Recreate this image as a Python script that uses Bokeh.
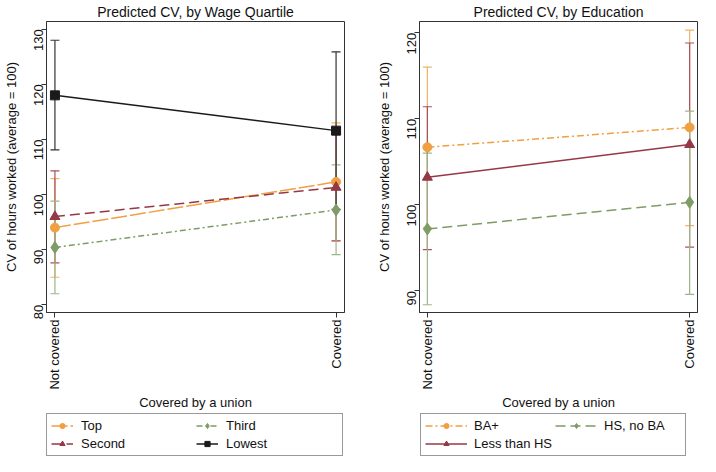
import math
from bokeh.plotting import figure
from bokeh.layouts import row, column
from bokeh.models import (ColumnDataSource, Whisker, TeeHead, FixedTicker, Legend,
                          LegendItem, Range1d)
from bokeh.embed import file_html
from bokeh.resources import INLINE

# ---------------- data ----------------
x_pos = [0, 1]
x_labels = ["Not covered", "Covered"]

wage_names = ["Top", "Second", "Third", "Lowest"]
wage_mean = [[94.0, 102.3], [96.0, 101.3], [90.4, 97.2], [118.0, 111.6]]
wage_lo = [[85.0, 91.6], [87.6, 91.6], [82.0, 89.1], [108.1, 97.3]]
wage_hi = [[102.9, 113.0], [104.3, 111.0], [98.8, 105.4], [128.0, 125.9]]
wage_legend_order = ["Top", "Third", "Second", "Lowest"]

edu_names = ["BA+", "Less than HS", "HS, no BA"]
edu_mean = [[106.7, 109.0], [103.2, 107.0], [97.2, 100.3]]
edu_lo = [[97.4, 97.6], [94.8, 95.1], [88.4, 89.6]]
edu_hi = [[116.0, 120.3], [111.4, 118.8], [106.0, 110.9]]
edu_legend_order = ["BA+", "HS, no BA", "Less than HS"]

wage_yticks = [80, 90, 100, 110, 120, 130]
edu_yticks = [90, 100, 110, 120]

# ---------------- styles ----------------
ORANGE = "#F0A043"
MAROON = "#953846"
GREEN = "#7E9C66"
BLACK = "#1A1A1A"
FONT = "Liberation Sans"

wage_style = [
    dict(color=ORANGE, err="#F3B265", dash="16 3", marker="circle", size=9),
    dict(color=MAROON, err="#A9505E", dash="10 5", marker="triangle", size=10),
    dict(color=GREEN, err="#9DB58A", dash="6 3 2 3", marker="diamond", size=12),
    dict(color=BLACK, err="#333333", dash="solid", marker="square", size=9),
]
edu_style = [
    dict(color=ORANGE, err="#F3B265", dash="7 3 2 3", marker="circle", size=9),
    dict(color=MAROON, err="#A9505E", dash="solid", marker="triangle", size=10),
    dict(color=GREEN, err="#9DB58A", dash="10 5", marker="diamond", size=12),
]


def draw_series(p, names, means, los, his, styles, whiskers):
    items = {}
    for name, m, lo, hi, st in zip(names, means, los, his, styles):
        src = ColumnDataSource(dict(x=x_pos, y=m, lo=lo, hi=hi))
        if whiskers:
            w = Whisker(base="x", upper="hi", lower="lo", source=src,
                        line_color=st["err"], line_width=1.2,
                        upper_head=TeeHead(size=9, line_color=st["err"], line_width=1.2),
                        lower_head=TeeHead(size=9, line_color=st["err"], line_width=1.2))
            w.level = "underlay"
            p.add_layout(w)
        ln = p.line("x", "y", source=src, line_color=st["color"], line_width=1.5,
                    line_dash=st["dash"])
        mk = p.scatter("x", "y", source=src, marker=st["marker"], size=st["size"],
                       fill_color=st["color"], line_color=st["color"])
        items[name] = LegendItem(label=name, renderers=[ln, mk])
    return items


def make_panel(title, names, means, los, his, styles, yticks, yr, width, bl, br):
    p = figure(width=width, height=412, x_range=Range1d(-0.03, 1.03),
               y_range=Range1d(*yr), output_backend="svg", toolbar_location=None,
               min_border_left=bl, min_border_right=br, min_border_top=0,
               min_border_bottom=100)
    p.title.text = title
    p.title.align = "center"
    p.title.text_font = FONT
    p.title.text_font_size = "14px"
    p.title.text_font_style = "normal"
    p.title.text_color = "#111111"
    p.title.standoff = 3
    p.outline_line_color = "#333333"
    p.outline_line_width = 1
    p.xgrid.visible = False
    p.ygrid.visible = False
    p.background_fill_color = "white"
    p.border_fill_color = "white"

    p.xaxis.ticker = FixedTicker(ticks=x_pos)
    p.xaxis.major_label_overrides = {x: l for x, l in zip(x_pos, x_labels)}
    p.xaxis.major_label_orientation = math.pi / 2
    p.xaxis.axis_label = "Covered by a union"
    p.yaxis.ticker = FixedTicker(ticks=yticks)
    p.yaxis.major_label_orientation = math.pi / 2
    p.yaxis.axis_label = "CV of hours worked (average = 100)"
    for ax in (p.xaxis[0], p.yaxis[0]):
        ax.major_label_text_font = FONT
        ax.major_label_text_font_size = "13px"
        ax.major_label_text_color = "#111111"
        ax.axis_label_text_font = FONT
        ax.axis_label_text_font_size = "13px"
        ax.axis_label_text_font_style = "normal"
        ax.axis_label_text_color = "#111111"
        ax.axis_line_color = "#333333"
        ax.major_tick_line_color = "#333333"
        ax.major_tick_out = 5
        ax.major_tick_in = 0
        ax.minor_tick_line_color = None
    p.xaxis.major_label_standoff = 2
    p.xaxis.axis_label_standoff = 2
    p.yaxis.major_label_standoff = 3
    p.yaxis.axis_label_standoff = 8

    draw_series(p, names, means, los, his, styles, True)
    return p


def make_legend_fig(names, means, los, his, styles, order, width, leg_x,
                    glyph_w, label_w, standoff):
    # legend-only strip: the series are drawn outside its (0..1) view
    f = figure(width=width, height=44, x_range=Range1d(0, 1), y_range=Range1d(0, 1),
               output_backend="svg", toolbar_location=None, min_border=0)
    f.axis.visible = False
    f.grid.visible = False
    f.outline_line_color = None
    f.border_fill_color = "white"
    items = draw_series(f, names, means, los, his, styles, False)
    leg = Legend(items=[items[n] for n in order], orientation="horizontal", nrows=2,
                 location=(leg_x, 0))
    leg.label_text_font = FONT
    leg.label_text_font_size = "13px"
    leg.label_text_color = "#111111"
    leg.glyph_width = glyph_w
    leg.glyph_height = 13
    leg.label_width = label_w
    leg.label_height = 13
    leg.spacing = 3
    leg.label_standoff = standoff
    leg.padding = 4
    leg.margin = 0
    leg.border_line_color = "#333333"
    leg.border_line_width = 1
    leg.background_fill_alpha = 0
    f.add_layout(leg, "center")
    return f


p1 = make_panel("Predicted CV, by Wage Quartile", wage_names, wage_mean, wage_lo,
                wage_hi, wage_style, wage_yticks, (78.6, 131.4), 352, 37, 8)
p2 = make_panel("Predicted CV, by Education", edu_names, edu_mean, edu_lo, edu_hi,
                edu_style, edu_yticks, (87.5, 121.3), 348, 67, 3)
l1 = make_legend_fig(wage_names, wage_mean, wage_lo, wage_hi, wage_style,
                     wage_legend_order, 352, 46, 22, 112, 8)
l2 = make_legend_fig(edu_names, edu_mean, edu_lo, edu_hi, edu_style,
                     edu_legend_order, 348, 68, 42, 77, 7)

layout = column(row(p1, p2), row(l1, l2))
open("out.html", "w").write(file_html(layout, INLINE))
